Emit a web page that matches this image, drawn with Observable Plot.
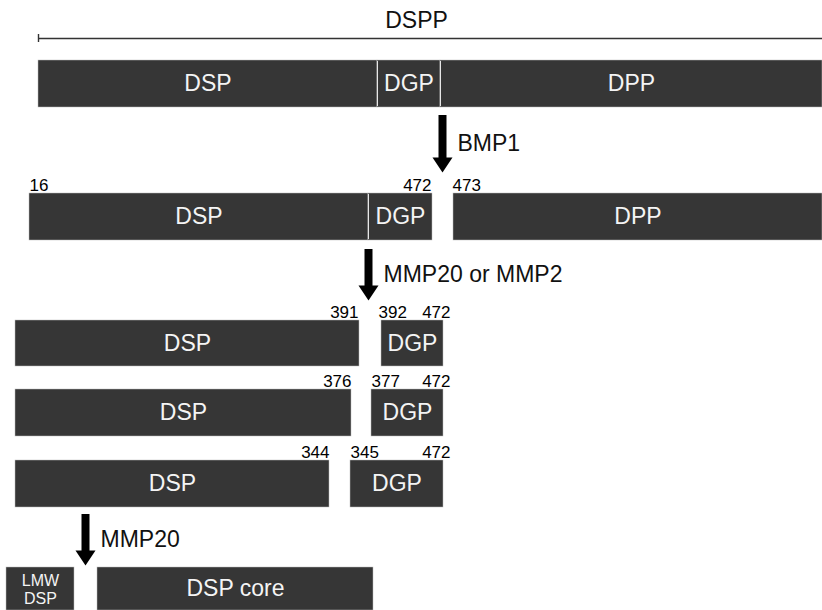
<!DOCTYPE html>
<html>
<head>
<meta charset="utf-8">
<script src="https://cdn.jsdelivr.net/npm/d3@7"></script>
<script src="https://cdn.jsdelivr.net/npm/@observablehq/plot@0.6"></script>
<style>
  html, body { margin: 0; padding: 0; background: #fff; }
  #chart svg { display: block; }
</style>
</head>
<body>
<div id="chart"></div>
<script>
// ---- Diagram data (diagram units on a 822 x 610 canvas) ----
const rowNames   = ["DSPP", "BMP1 products", "cut at 391", "cut at 376", "cut at 344", "MMP20 products"];
const rowTop     = [60, 193, 320, 389, 460, 567];
const rowBottom  = [107, 240, 366, 436, 507, 610];

// segments: row index, label, start, end
const segRow   = [0, 0, 0, 1, 1, 1, 2, 2, 3, 3, 4, 4, 5, 5];
const segLabel = ["DSP", "DGP", "DPP", "DSP", "DGP", "DPP", "DSP", "DGP", "DSP", "DGP", "DSP", "DGP", "LMW\nDSP", "DSP core"];
const segStart = [38, 377, 440, 29, 368, 453, 15, 381, 15, 371, 15, 350, 6, 97];
const segEnd   = [377, 440, 822, 368, 432, 822, 359, 443, 351, 443, 329, 443, 74, 373];

// internal dividers (row index, position)
const divRow = [0, 0, 1];
const divPos = [377, 440, 368];

// residue numbers above fragments
const numRow    = [1, 1, 1, 2, 2, 2, 3, 3, 3, 4, 4, 4];
const numText   = ["16", "472", "473", "391", "392", "472", "376", "377", "472", "344", "345", "472"];
const numPos    = [29, 431, 452, 358, 378, 450, 351, 371, 450, 329, 350, 450];
const numAnchor = ["start", "end", "start", "end", "start", "end", "end", "start", "end", "end", "start", "end"];

// protease arrows
const arrowLabel = ["BMP1", "MMP20 or MMP2", "MMP20"];
const arrowX     = [442, 368, 85];
const arrowTop   = [115, 249, 514];
const arrowTip   = [172, 300, 565];

// full-length bracket
const spanLabel = "DSPP";
const spanStart = 38, spanEnd = 822, spanY = 38, spanLabelX = 416, spanLabelY = 20;

// ---- Build tables ----
const segments = segRow.map((r, i) => ({
  label: segLabel[i], x1: segStart[i], x2: segEnd[i],
  y1: rowTop[r], y2: rowBottom[r],
  xm: (segStart[i] + segEnd[i]) / 2, ym: (rowTop[r] + rowBottom[r]) / 2,
  small: segLabel[i].includes("\n")
}));
const dividers = divRow.map((r, i) => ({x: divPos[i], y1: rowTop[r] + 1, y2: rowBottom[r] - 1}));
const numbers = numRow.map((r, i) => ({text: numText[i], x: numPos[i], y: rowTop[r], anchor: numAnchor[i]}));
const arrows = arrowLabel.map((l, i) => ({label: l, x: arrowX[i], y1: arrowTop[i], y2: arrowTip[i], ym: (arrowTop[i] + arrowTip[i]) / 2}));

const FONT = "'Liberation Sans', Arial, sans-serif";
const HEAD = 15;

const chart = Plot.plot({
  width: 822,
  height: 610,
  margin: 0,
  x: {domain: [0, 822], range: [0, 822], axis: null},
  y: {domain: [0, 610], range: [0, 610], axis: null},
  style: {fontFamily: FONT, background: "#fff", overflow: "hidden"},
  marks: [
    // DSPP bracket
    Plot.ruleY([spanY], {x1: spanStart, x2: spanEnd, stroke: "#333", strokeWidth: 1.6}),
    Plot.ruleX([spanStart], {y1: spanY - 4, y2: spanY + 4, stroke: "#333", strokeWidth: 1.4}),
    Plot.text([spanLabel], {x: spanLabelX, y: spanLabelY, text: d => d, fontSize: 23, fill: "#111"}),

    // fragments
    Plot.rect(segments, {x1: "x1", x2: "x2", y1: "y1", y2: "y2", fill: "#363636", stroke: "#bdbdbd", strokeWidth: 0.5}),
    Plot.ruleX(dividers, {x: "x", y1: "y1", y2: "y2", stroke: "#e6e6e6", strokeWidth: 1}),
    Plot.text(segments.filter(d => !d.small), {x: "xm", y: "ym", text: "label", fill: "#f4f4f4", fontSize: 23}),
    Plot.text(segments.filter(d => d.small), {x: "xm", y: d => d.y1 + 6, text: "label", fill: "#f4f4f4", fontSize: 16, lineAnchor: "top", lineHeight: 1.1}),

    // residue numbers
    Plot.text(numbers.filter(d => d.anchor === "start"), {x: "x", y: "y", text: "text", textAnchor: "start", lineAnchor: "bottom", dy: -3, fontSize: 17, fill: "#000"}),
    Plot.text(numbers.filter(d => d.anchor === "end"), {x: "x", y: "y", text: "text", textAnchor: "end", lineAnchor: "bottom", dy: -3, fontSize: 17, fill: "#000"}),

    // arrows
    Plot.ruleX(arrows, {x: "x", y1: "y1", y2: d => d.y2 - HEAD + 1, stroke: "#000", strokeWidth: 8}),
    Plot.vector(arrows, {x: "x", y: "y2", rotate: 180, length: HEAD, r: 10, shape: "spike", anchor: "end", fill: "#000", stroke: "none"}),
    Plot.text(arrows, {x: "x", y: "ym", text: "label", textAnchor: "start", dx: 15, fontSize: 23, fill: "#111"})
  ]
});
document.getElementById("chart").append(chart);
</script>
</body>
</html>
